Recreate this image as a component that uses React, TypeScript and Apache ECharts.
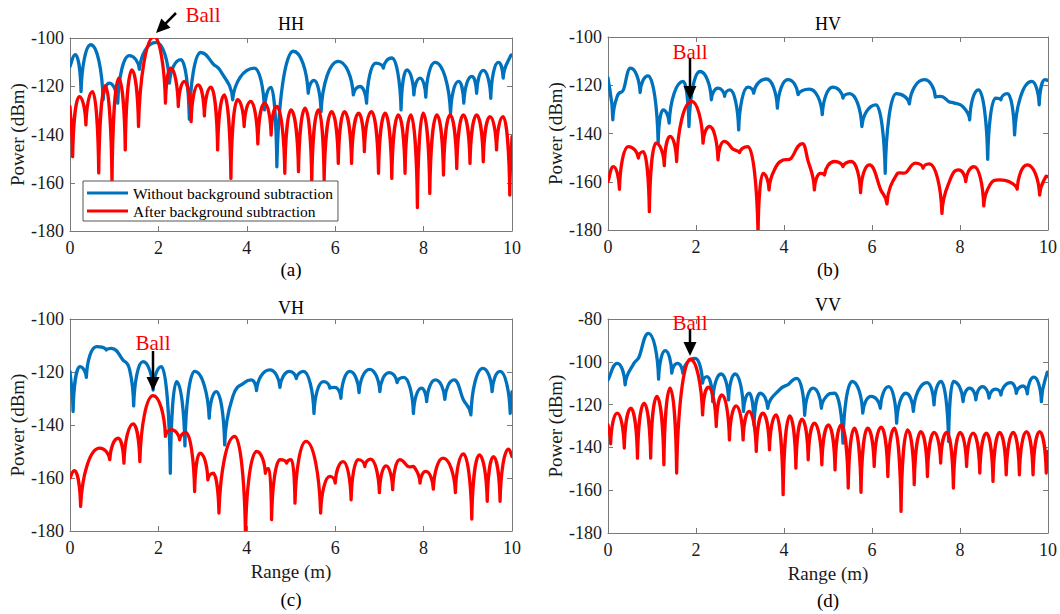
import React, { useEffect, useRef } from "react";
import * as echarts from "echarts";

const FONT = "Liberation Serif, Times New Roman, serif";
const BLUE = "#0072BD";
const RED = "#FF0000";
const AXIS = "#7a7a7a";

const seriesNames = ["Without background subtraction", "After background subtraction"];
const panelTitles = ["HH", "HV", "VH", "VV"];
const panelLabels = ["(a)", "(b)", "(c)", "(d)"];
const yMins = [-180, -180, -180, -180];
const yMaxs = [-100, -100, -100, -80];
const xMin = 0;
const xMax = 10;
const xStep = 2;
const yStep = 20;

// HH
const hhBlue = [[0,-111.8],[0.12,-106.9],[0.25,-122.2],[0.47,-102.8],[0.75,-125.6],[0.89,-118.7],[1.08,-127],[1.34,-107.3],[1.57,-113],[1.95,-101.8],[2.25,-118.7],[2.51,-109],[2.7,-133.7],[2.96,-106],[3.25,-111],[3.4,-113.5],[3.68,-125.6],[4.17,-112.5],[4.4,-129.8],[4.55,-120.5],[4.68,-153.4],[5.05,-105.5],[5.39,-122.9],[5.52,-117.6],[5.68,-130.5],[6.07,-109.7],[6.41,-123.6],[6.56,-120.1],[6.71,-127],[6.92,-110.4],[7.09,-112.5],[7.28,-108.3],[7.49,-129.8],[7.62,-113.2],[7.78,-123.6],[7.92,-116.6],[8.05,-124.5],[8.26,-110.1],[8.61,-131.2],[8.79,-118],[8.91,-127],[9.09,-115.9],[9.2,-122.9],[9.35,-113.4],[9.52,-125],[9.69,-110.1],[9.8,-116.6],[9.97,-107.3],[10,-107]];
const hhRed = [[0,-128.4],[0.06,-149.2],[0.21,-124.3],[0.36,-136],[0.51,-122.2],[0.65,-155.9],[0.8,-119.8],[0.95,-159.6],[1.1,-116.6],[1.25,-146.4],[1.4,-113.2],[1.55,-136.7],[1.9,-99.5],[2.16,-127],[2.28,-112.5],[2.45,-128.4],[2.59,-118],[2.74,-134.7],[2.9,-119.4],[3.04,-132.3],[3.19,-120.4],[3.34,-146.4],[3.49,-123.6],[3.64,-158.2],[3.79,-125.6],[3.94,-136.7],[4.09,-126.3],[4.25,-143.9],[4.4,-127],[4.55,-140.2],[4.68,-128.4],[4.86,-156.1],[5.0,-129.8],[5.17,-155.4],[5.32,-129.1],[5.47,-159.6],[5.62,-129.8],[5.75,-158.9],[5.92,-130.5],[6.07,-152],[6.21,-130.5],[6.37,-152],[6.53,-131.2],[6.66,-147.1],[6.82,-130.5],[6.98,-156.1],[7.13,-131.2],[7.28,-158.2],[7.43,-131.9],[7.58,-156.1],[7.71,-131.9],[7.86,-170.3],[7.99,-131.2],[8.14,-164.4],[8.3,-131.9],[8.45,-156.8],[8.6,-131.9],[8.75,-154.1],[8.9,-131.9],[9.05,-152],[9.2,-131.9],[9.35,-151.3],[9.5,-132.6],[9.65,-146.4],[9.8,-132.6],[9.95,-165.1],[10,-140.9]];

// HV
const hvBlue = [[0,-117],[0.11,-134.3],[0.21,-124.6],[0.35,-121.9],[0.51,-112.9],[0.73,-123],[0.91,-116.1],[1.14,-144],[1.25,-130.2],[1.39,-135.7],[1.71,-118.4],[1.84,-137.1],[2.09,-114.3],[2.35,-126],[2.5,-121.2],[2.65,-124.6],[2.77,-121.9],[2.97,-138.5],[3.18,-120.8],[3.31,-123.3],[3.6,-117.4],[3.85,-129.5],[4.09,-117.7],[4.32,-123.9],[4.58,-121.6],[4.87,-132.2],[5.11,-120.8],[5.34,-125.3],[5.49,-123.5],[5.77,-137.1],[6.09,-128.1],[6.3,-156.5],[6.55,-123.5],[6.85,-127.7],[7.19,-117.7],[7.44,-124.9],[7.56,-124.6],[7.74,-126.7],[7.87,-127.4],[8.06,-128.8],[8.22,-134.3],[8.42,-121.9],[8.63,-150.7],[8.81,-125.3],[8.93,-126],[9.08,-123.5],[9.24,-140.6],[9.63,-118.4],[9.8,-128.1],[9.93,-117.7],[10,-118]];
const hvRed = [[0,-159.9],[0.12,-153.7],[0.26,-163.1],[0.46,-145.4],[0.69,-150.2],[0.8,-147.5],[0.94,-172.4],[1.09,-144],[1.28,-153.3],[1.41,-141.2],[1.56,-151.6],[1.9,-126.7],[2.16,-144],[2.31,-137.1],[2.5,-150.9],[2.64,-143.3],[2.84,-146.5],[2.99,-147.9],[3.18,-145.4],[3.41,-182],[3.52,-156.5],[3.66,-163.4],[3.82,-153.7],[3.98,-151],[4.15,-150.5],[4.42,-144.2],[4.54,-150.9],[4.69,-163.4],[4.83,-156.5],[4.92,-157.2],[5.15,-151.6],[5.34,-153.7],[5.53,-151.6],[5.74,-164.5],[5.94,-153],[6.2,-163.4],[6.34,-169.2],[6.58,-156.5],[6.77,-156.2],[6.99,-152.3],[7.16,-154.4],[7.3,-152.6],[7.59,-173.1],[7.76,-159.9],[7.97,-155.1],[8.13,-159.9],[8.32,-153.7],[8.54,-170],[8.68,-161.3],[8.89,-159.2],[9.11,-159.9],[9.3,-163.1],[9.53,-153],[9.81,-165.5],[9.95,-157.9],[10,-157.9]];

// VH
const vhBlue = [[0,-119.8],[0.07,-134.9],[0.22,-118],[0.37,-122],[0.6,-110.4],[0.82,-111.7],[0.94,-111.1],[1.2,-115.5],[1.35,-119.2],[1.44,-132.8],[1.65,-116.1],[1.88,-126.8],[2.07,-118],[2.27,-158.2],[2.41,-123.6],[2.6,-147.9],[2.82,-119.8],[3.15,-137.4],[3.31,-127.4],[3.5,-147.5],[3.69,-129],[3.95,-124],[4.1,-123],[4.22,-127],[4.52,-119.2],[4.75,-125.8],[4.97,-119.8],[5.12,-122.5],[5.28,-119.8],[5.52,-135.6],[5.73,-123.6],[5.88,-126.1],[5.99,-125.8],[6.13,-129.9],[6.33,-119.8],[6.54,-127.8],[6.78,-119],[7.01,-127.4],[7.22,-120.2],[7.4,-124],[7.55,-122],[7.77,-135.6],[7.95,-126.1],[8.07,-131.2],[8.27,-123],[8.48,-130.3],[8.69,-123],[8.9,-130.5],[9.07,-136.2],[9.34,-118.6],[9.55,-127.4],[9.73,-119.8],[9.96,-135.6],[10,-127.4]];
const vhRed = [[0,-160],[0.1,-157.2],[0.24,-170.7],[0.67,-148.7],[0.9,-153.1],[1.09,-145],[1.22,-154.4],[1.43,-139.6],[1.58,-153.8],[1.88,-128.9],[2.16,-144.3],[2.29,-141.8],[2.48,-145.6],[2.62,-142.8],[2.82,-165.1],[2.94,-150.6],[3.12,-160.7],[3.24,-158.2],[3.37,-173.2],[3.73,-144.3],[3.97,-181],[4.22,-150],[4.42,-158.2],[4.5,-156.5],[4.56,-175.7],[4.75,-153.1],[4.9,-154.4],[5.01,-153.1],[5.09,-169.5],[5.34,-146.2],[5.67,-173.2],[5.88,-159.4],[6.0,-161.9],[6.18,-153.8],[6.36,-168.2],[6.52,-153.1],[6.67,-155.7],[6.8,-152.9],[7.0,-165.5],[7.15,-155.4],[7.3,-164.4],[7.46,-153.1],[7.65,-155.7],[7.78,-155.7],[7.92,-161.9],[8.05,-157.5],[8.22,-164.2],[8.44,-152.5],[8.72,-165.5],[8.9,-150.9],[9.09,-175.5],[9.26,-151.3],[9.44,-168.8],[9.58,-151.9],[9.73,-168.8],[9.92,-149.1],[10,-151.9]];

// VV
const vvBlue = [[0,-108.5],[0.21,-100.7],[0.39,-110.8],[0.58,-101],[0.7,-98],[0.92,-86.7],[1.15,-108.1],[1.3,-94.8],[1.45,-105.3],[1.58,-100.7],[1.7,-105.3],[1.98,-98.4],[2.15,-110],[2.25,-106.9],[2.38,-118.6],[2.57,-105.7],[2.74,-117.8],[2.89,-105.7],[3.08,-123.2],[3.21,-114.7],[3.32,-129.5],[3.46,-114.7],[3.63,-121.7],[3.9,-113],[4.1,-110.5],[4.29,-107.7],[4.47,-125],[4.66,-112.3],[4.85,-121.7],[4.96,-116.2],[5.15,-114.7],[5.34,-138],[5.55,-109.2],[5.79,-124],[5.98,-116.2],[6.19,-121.7],[6.38,-111.6],[6.56,-128.7],[6.77,-114.7],[6.94,-123.2],[7.25,-109.7],[7.41,-120.1],[7.57,-109.2],[7.74,-137.2],[7.85,-109.2],[8.07,-118.6],[8.22,-112.3],[8.36,-117.8],[8.51,-111.6],[8.66,-117],[8.81,-112.8],[8.93,-115.5],[9.15,-109.7],[9.28,-114.7],[9.43,-111.3],[9.53,-115],[9.68,-107.2],[9.85,-118.6],[9.98,-105],[10,-105]];
const vvRed = [[0,-129.5],[0.06,-138.3],[0.21,-124],[0.37,-140.3],[0.52,-121.7],[0.67,-145],[0.82,-119.3],[0.97,-145],[1.11,-116.2],[1.27,-148.1],[1.41,-112.3],[1.56,-152],[1.87,-98.8],[2.15,-124.8],[2.28,-111.9],[2.46,-130.2],[2.59,-115.5],[2.76,-136.5],[2.91,-120.6],[3.07,-136.5],[3.21,-123.2],[3.37,-141.9],[3.52,-124],[3.67,-141.1],[3.82,-124.8],[3.98,-162.1],[4.13,-125.3],[4.27,-149.7],[4.41,-126.8],[4.55,-145.8],[4.69,-128.7],[4.86,-148.1],[5.01,-129.5],[5.16,-150.5],[5.3,-129.5],[5.46,-159],[5.6,-131],[5.75,-161],[5.9,-131],[6.05,-148.9],[6.21,-130.5],[6.36,-153.6],[6.51,-131],[6.66,-169.9],[6.81,-131.8],[6.96,-157.4],[7.11,-132.6],[7.26,-153.6],[7.41,-133],[7.56,-147.3],[7.7,-133],[7.85,-159],[8.0,-133],[8.15,-148.9],[8.3,-133.3],[8.45,-152],[8.6,-133.3],[8.75,-155.9],[8.9,-133],[9.05,-152.8],[9.21,-133],[9.35,-152.8],[9.51,-132.6],[9.66,-152.8],[9.81,-132.6],[9.96,-152],[10,-141.9]];

const panelData = [
  [hhBlue, hhRed],
  [hvBlue, hvRed],
  [vhBlue, vhRed],
  [vvBlue, vvRed],
];

// layout (pixels)
const grids = [
  { left: 70, top: 38, width: 442, height: 193 },
  { left: 608, top: 37, width: 441, height: 193 },
  { left: 70, top: 319, width: 442, height: 212 },
  { left: 608, top: 319, width: 441, height: 214 },
];
const titlePos = [[291, 24], [828, 24], [291, 308], [828, 305]];
const labelPos = [[291, 269], [828, 269], [291, 599], [828, 600]];
const ballPos = [[203, 15], [690, 52], [153, 343], [690, 323]];
const arrows = [
  [[176, 13], [156, 33]],
  [[690, 58], [690, 100]],
  [[153, 351], [153, 391]],
  [[690, 329], [690, 356]],
];

function buildPath(vals: number[][], px: number[][]): string {
  const n = px.length;
  const kind = vals.map((p, i) => {
    if (i === 0 || i === n - 1) return "end";
    const a = vals[i - 1][1], b = vals[i + 1][1], c = p[1];
    if (c > a && c > b) return "peak";
    if (c < a && c < b) return "null";
    return "mid";
  });
  const handle = (i: number, sx: number, sy: number): number[] => {
    const k = kind[i];
    if (k === "peak") return [sx * 0.5, 0];
    if (k === "null") return [sx * 0.08, sy * 0.55];
    if (k === "end") return [sx / 3, sy / 3];
    const tx = px[i + 1][0] - px[i - 1][0];
    const ty = px[i + 1][1] - px[i - 1][1];
    const m = tx !== 0 ? ty / tx : 0;
    let hx = sx * 0.35;
    let hy = hx * m;
    const lim = Math.abs(sy) * 0.8 + 1;
    if (Math.abs(hy) > lim) {
      const s = lim / Math.abs(hy);
      hy *= s;
      hx *= s;
    }
    return [hx, hy];
  };
  let d = `M${px[0][0].toFixed(2)},${px[0][1].toFixed(2)}`;
  for (let i = 0; i < n - 1; i++) {
    const A = px[i], B = px[i + 1];
    const dx = B[0] - A[0], dy = B[1] - A[1];
    const h1 = handle(i, dx, dy);
    const h2 = handle(i + 1, -dx, -dy);
    d += ` C${(A[0] + h1[0]).toFixed(2)},${(A[1] + h1[1]).toFixed(2)} ${(B[0] + h2[0]).toFixed(2)},${(B[1] + h2[1]).toFixed(2)} ${B[0].toFixed(2)},${B[1].toFixed(2)}`;
  }
  return d;
}

function makeSeries(points: number[][], name: string, color: string, gi: number, z: number) {
  return {
    type: "custom",
    name,
    xAxisIndex: 2 * gi,
    yAxisIndex: 2 * gi,
    clip: true,
    silent: true,
    z,
    itemStyle: { color },
    encode: { x: 0, y: 1 },
    data: points,
    renderItem: (params: any, api: any) => {
      if (params.dataIndex !== 0) return null;
      const px = points.map((p) => api.coord(p));
      return {
        type: "path",
        shape: { pathData: buildPath(points, px) },
        style: { fill: "none", stroke: color, lineWidth: 3.3, lineJoin: "round", lineCap: "round" },
      };
    },
  };
}

function arrowGraphic(tail: number[], tip: number[]) {
  const dx = tip[0] - tail[0], dy = tip[1] - tail[1];
  const len = Math.hypot(dx, dy);
  const ux = dx / len, uy = dy / len;
  const hl = 14, hw = 6.5;
  const bx = tip[0] - ux * hl, by = tip[1] - uy * hl;
  return [
    { type: "line", silent: true, shape: { x1: tail[0], y1: tail[1], x2: bx + ux * 2, y2: by + uy * 2 }, style: { stroke: "#000", lineWidth: 2.5 } },
    { type: "polygon", silent: true, shape: { points: [[tip[0], tip[1]], [bx - uy * hw, by + ux * hw], [bx + uy * hw, by - ux * hw]] }, style: { fill: "#000" } },
  ];
}

export default function App() {
  const ref = useRef<HTMLDivElement>(null);
  useEffect(() => {
    if (!ref.current) return;
    const chart = echarts.init(ref.current, null, { renderer: "svg" });
    const xAxes: any[] = [];
    const yAxes: any[] = [];
    const series: any[] = [];
    const tickLabel = { fontFamily: FONT, fontSize: 18, color: "#1a1a1a" };
    grids.forEach((g, i) => {
      const common = {
        gridIndex: i,
        type: "value",
        min: xMin,
        max: xMax,
        interval: xStep,
        splitLine: { show: false },
        axisLine: { show: true, onZero: false, lineStyle: { color: AXIS, width: 1 } },
        axisTick: { show: true, inside: true, length: 5, lineStyle: { color: AXIS } },
      };
      xAxes.push({
        ...common,
        position: "bottom",
        axisLabel: { ...tickLabel, margin: 8 },
        name: i >= 2 ? "Range (m)" : "",
        nameLocation: "middle",
        nameGap: 31,
        nameTextStyle: { fontFamily: FONT, fontSize: 19, color: "#1a1a1a" },
      });
      xAxes.push({ ...common, position: "top", axisLabel: { show: false } });
      const ycommon = {
        gridIndex: i,
        type: "value",
        min: yMins[i],
        max: yMaxs[i],
        interval: yStep,
        splitLine: { show: false },
        axisLine: { show: true, onZero: false, lineStyle: { color: AXIS, width: 1 } },
        axisTick: { show: true, inside: true, length: 5, lineStyle: { color: AXIS } },
      };
      yAxes.push({
        ...ycommon,
        position: "left",
        axisLabel: { ...tickLabel, margin: 6 },
        name: "Power (dBm)",
        nameLocation: "middle",
        nameGap: 43,
        nameTextStyle: { fontFamily: FONT, fontSize: 19, color: "#1a1a1a" },
      });
      yAxes.push({ ...ycommon, position: "right", axisLabel: { show: false } });
      series.push(makeSeries(panelData[i][0], seriesNames[0], BLUE, i, 2));
      series.push(makeSeries(panelData[i][1], seriesNames[1], RED, i, 3));
    });

    const graphic: any[] = [];
    panelTitles.forEach((t, i) => {
      graphic.push({ type: "text", silent: true, x: titlePos[i][0], y: titlePos[i][1], style: { text: t, fill: "#000", font: `18px ${FONT}`, textAlign: "center", textVerticalAlign: "middle" } });
      graphic.push({ type: "text", silent: true, x: labelPos[i][0], y: labelPos[i][1], style: { text: panelLabels[i], fill: "#000", font: `19px ${FONT}`, textAlign: "center", textVerticalAlign: "middle" } });
      graphic.push({ type: "text", silent: true, z: 10, x: ballPos[i][0], y: ballPos[i][1], style: { text: "Ball", fill: RED, font: `21px ${FONT}`, textAlign: "center", textVerticalAlign: "middle" } });
      arrowGraphic(arrows[i][0], arrows[i][1]).forEach((a) => graphic.push({ ...a, z: 10 }));
    });

    chart.setOption({
      animation: false,
      backgroundColor: "#fff",
      grid: grids.map((g) => ({ ...g, containLabel: false })),
      xAxis: xAxes,
      yAxis: yAxes,
      legend: {
        left: 83,
        top: 181,
        orient: "vertical",
        icon: "rect",
        itemWidth: 41,
        itemHeight: 3,
        itemGap: 2,
        padding: [4, 5, 2, 4],
        backgroundColor: "#fff",
        borderColor: "#555",
        borderWidth: 1,
        borderRadius: 0,
        selectedMode: false,
        textStyle: { fontFamily: FONT, fontSize: 15.5, color: "#000" },
        data: seriesNames,
        z: 20,
      },
      series,
      graphic,
    });
    return () => chart.dispose();
  }, []);
  return <div ref={ref} style={{ position: "fixed", left: 0, top: 0, width: 1060, height: 614, background: "#fff" }} />;
}
